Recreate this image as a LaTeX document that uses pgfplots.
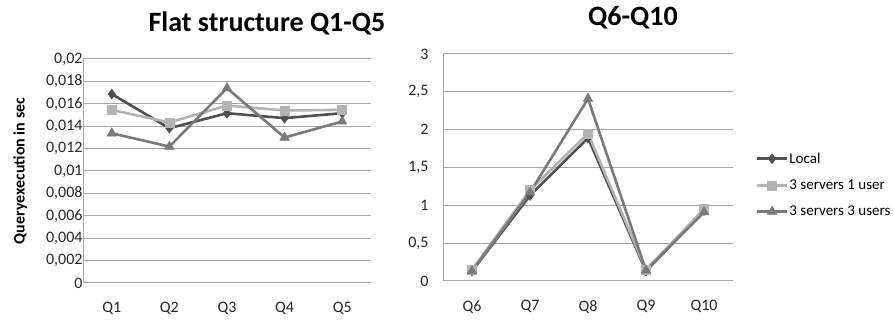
\documentclass[border=0pt]{standalone}
\usepackage{pgfplots}
\pgfplotsset{compat=1.18}
\usepackage{fontspec}
\setmainfont{Carlito}
\definecolor{cLocal}{HTML}{505050}
\definecolor{cOne}{HTML}{B4B4B4}
\definecolor{cThree}{HTML}{7A7A7A}
\definecolor{cGrid}{HTML}{A6A6A6}
\pgfplotsset{
  mystyle/.style={
    scale only axis, clip=false,
    axis x line=bottom, axis y line=left,
    axis line style={cGrid, line width=1pt, -},
    ymajorgrids, grid style={cGrid, line width=1pt},
    major tick length=0pt,
    tick label style={font=\fontsize{16}{19}\selectfont, text=black!85},
    xtick=data,
    xticklabel style={yshift=-16pt},
    scaled y ticks=false,
    /pgf/number format/use comma,
    /pgf/number format/fixed,
    /pgf/number format/assume math mode=true,
  },
  sLocal/.style={cLocal, line width=2.6pt, mark=diamond*, mark size=5pt, mark options={solid, fill=cLocal, line width=0.5pt}},
  sOne/.style={cOne, line width=2.6pt, mark=square*, mark size=4.5pt, mark options={solid, fill=cOne, line width=0.5pt}},
  sThree/.style={cThree, line width=2.6pt, mark=triangle*, mark size=5.5pt, mark options={solid, fill=cThree, line width=0.5pt}},
}
\begin{document}
\begin{tikzpicture}
\path[use as bounding box] (0pt,0pt) rectangle (894pt,320pt);
\node[font=\fontsize{28}{30}\selectfont\bfseries, anchor=base] at (267pt,288pt) {Flat structure Q1-Q5};
\node[font=\fontsize{28}{30}\selectfont\bfseries, anchor=base] at (633pt,294pt) {Q6-Q10};
\begin{axis}[mystyle, at={(83pt,37pt)}, anchor=south west, width=288pt, height=224pt,
  xmin=0.5, xmax=5.5, ymin=0, ymax=0.02,
  ytick={0,0.002,0.004,0.006,0.008,0.01,0.012,0.014,0.016,0.018,0.02},
  yticklabel style={/pgf/number format/precision=3, xshift=3pt},
  xticklabels={Q1,Q2,Q3,Q4,Q5},
  ylabel={\bfseries Queryexecution in sec},
  ylabel style={font=\fontsize{16}{19}\selectfont, yshift=12pt},
]
\addplot[sLocal] coordinates {(1,0.01687) (2,0.01382) (3,0.01516) (4,0.01472) (5,0.01516)};
\addplot[sOne] coordinates {(1,0.01546) (2,0.01433) (3,0.01585) (4,0.01540) (5,0.01546)};
\addplot[sThree] coordinates {(1,0.01337) (2,0.01218) (3,0.01740) (4,0.01299) (5,0.01442)};
\end{axis}
\begin{axis}[mystyle, at={(443pt,39pt)}, anchor=south west, width=290pt, height=227pt,
  xmin=0.5, xmax=5.5, ymin=0, ymax=3,
  ytick={0,0.5,1,1.5,2,2.5,3},
  yticklabel style={/pgf/number format/precision=1, xshift=-11pt},
  xticklabels={Q6,Q7,Q8,Q9,Q10},
  legend style={at={(rel axis cs:1.078,0.423)}, anchor=west, draw=none, fill=none,
    font=\fontsize{15}{18}\selectfont, row sep=11pt, inner xsep=0pt,
    nodes={inner xsep=1pt}},
  legend cell align=left,
  legend image code/.code={\draw[mark repeat=2,mark phase=2,#1] plot coordinates {(0pt,0pt) (15pt,0pt) (30pt,0pt)};},
]
\addplot[sLocal] coordinates {(1,0.13) (2,1.13) (3,1.89) (4,0.13) (5,0.93)};
\addplot[sOne] coordinates {(1,0.15) (2,1.20) (3,1.95) (4,0.15) (5,0.95)};
\addplot[sThree] coordinates {(1,0.13) (2,1.17) (3,2.41) (4,0.14) (5,0.91)};
\legend{Local, 3 servers 1 user, 3 servers 3 users}
\end{axis}
\end{tikzpicture}
\end{document}
